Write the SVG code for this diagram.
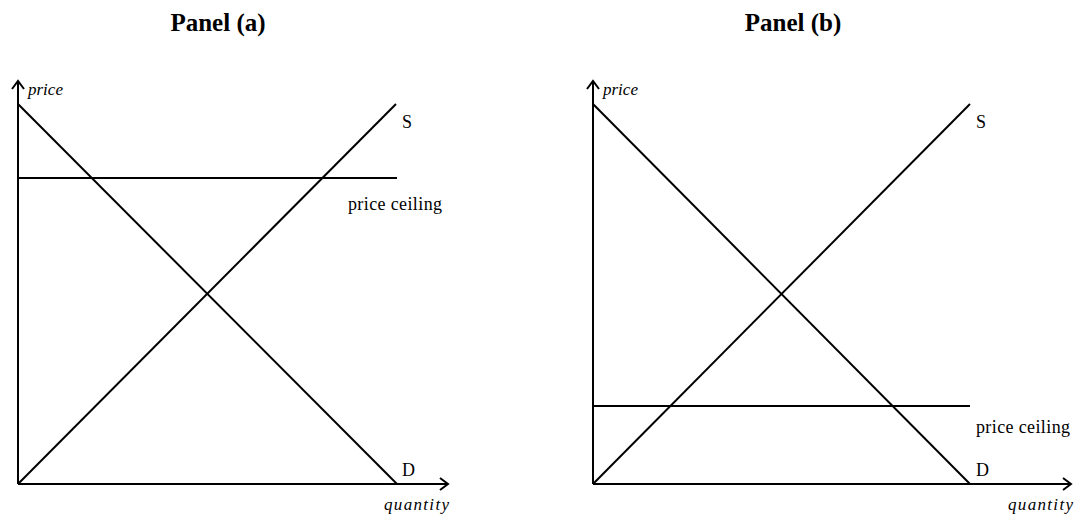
<svg xmlns="http://www.w3.org/2000/svg" width="1078" height="514" viewBox="0 0 1078 514">
<style>
.ln{stroke:#000;stroke-width:2;fill:none}
.ax{stroke:#000;stroke-width:2;fill:none}
.t{font-family:"Liberation Serif","Times New Roman",serif;font-size:18px;fill:#000}
.i{font-family:"Liberation Serif","Times New Roman",serif;font-size:17px;font-style:italic;fill:#000}
.h{font-family:"Liberation Serif","Times New Roman",serif;font-size:25px;font-weight:bold;fill:#000;text-anchor:middle}
</style>
<defs>
<marker id="arr" markerWidth="12" markerHeight="14" refX="10" refY="7" orient="auto" markerUnits="userSpaceOnUse">
<path d="M2,1 L10,7 L2,13" stroke="#000" stroke-width="2" fill="none"/>
</marker>
</defs>
<g id="panel-a">
<text class="h" x="218" y="31">Panel (a)</text>
<g id="axes-a">
<line class="ax" x1="18" y1="484" x2="18" y2="81" marker-end="url(#arr)"/>
<line class="ax" x1="18" y1="484" x2="448" y2="484" marker-end="url(#arr)"/>
<text class="i" x="28" y="95">price</text>
<text class="i" x="384" y="510" textLength="65">quantity</text>
</g>
<g id="connectors-a">
<line id="demand-a" class="ln" x1="18" y1="104" x2="397" y2="484"/>
<line id="supply-a" class="ln" x1="18" y1="484" x2="396" y2="104"/>
<line id="ceiling-a" class="ln" x1="18" y1="178" x2="397" y2="178"/>
</g>
<text class="t" x="402" y="128">S</text>
<text class="t" x="348" y="210" textLength="94">price ceiling</text>
<text class="t" x="402" y="476">D</text>
</g>
<g id="panel-b">
<text class="h" x="793" y="31">Panel (b)</text>
<g id="axes-b">
<line class="ax" x1="593" y1="484" x2="593" y2="81" marker-end="url(#arr)"/>
<line class="ax" x1="593" y1="484" x2="1071" y2="484" marker-end="url(#arr)"/>
<text class="i" x="603" y="95">price</text>
<text class="i" x="1008" y="510" textLength="65">quantity</text>
</g>
<g id="connectors-b">
<line id="demand-b" class="ln" x1="593" y1="104" x2="970" y2="484"/>
<line id="supply-b" class="ln" x1="593" y1="484" x2="970" y2="104"/>
<line id="ceiling-b" class="ln" x1="593" y1="406" x2="970" y2="406"/>
</g>
<text class="t" x="976" y="128">S</text>
<text class="t" x="976" y="433" textLength="94">price ceiling</text>
<text class="t" x="976" y="476">D</text>
</g>
</svg>
